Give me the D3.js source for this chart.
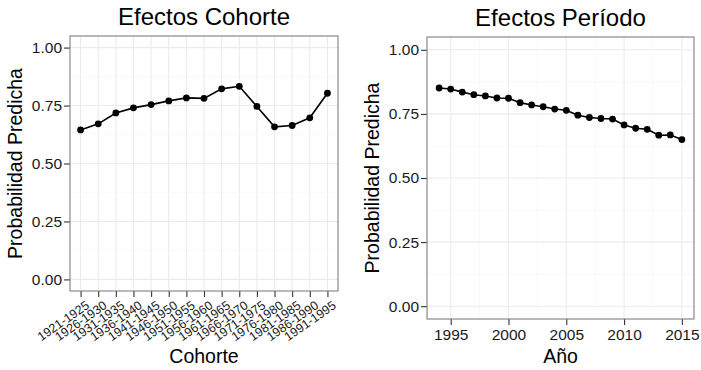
<!DOCTYPE html>
<html>
<head>
<meta charset="utf-8">
<script src="https://cdn.jsdelivr.net/npm/d3@7"></script>
<style>
  body { margin: 0; background: #fff; }
  text { font-family: "Liberation Sans", Arial, sans-serif; }
</style>
</head>
<body>
<script>
// cohort effects (left) and period effects (right)
var cohorts = ["1921-1925", "1926-1930", "1931-1935", "1936-1940", "1941-1945",
  "1946-1950", "1951-1955", "1956-1960", "1961-1965", "1966-1970",
  "1971-1975", "1976-1980", "1981-1985", "1986-1990", "1991-1995"];
var cohortProb = [0.645, 0.671, 0.718, 0.740, 0.754, 0.770, 0.783, 0.781,
  0.822, 0.833, 0.746, 0.658, 0.664, 0.697, 0.803];

var years = [1994, 1995, 1996, 1997, 1998, 1999, 2000, 2001, 2002, 2003, 2004,
  2005, 2006, 2007, 2008, 2009, 2010, 2011, 2012, 2013, 2014, 2015];
var periodProb = [0.851, 0.847, 0.835, 0.825, 0.820, 0.812, 0.811, 0.794, 0.785,
  0.778, 0.769, 0.764, 0.745, 0.736, 0.732, 0.730, 0.707, 0.694, 0.690, 0.667,
  0.668, 0.650];

var yTicks = [0, 0.25, 0.5, 0.75, 1];
var yMinor = [0.125, 0.375, 0.625, 0.875];
var yearTicks = [1995, 2000, 2005, 2010, 2015];
var yearMinor = [1997.5, 2002.5, 2007.5, 2012.5];

var svg = d3.select("body")
  .append("svg")
  .attr("width", 701)
  .attr("height", 370);

var gridCol = "#ebebeb";
var minorCol = "#f5f5f5";

function yAxisPanel(g, y, w, h) {
  g.selectAll(".ymin").data(yMinor).enter().append("line")
    .attr("x1", 0).attr("x2", w)
    .attr("y1", function(d) { return y(d); }).attr("y2", function(d) { return y(d); })
    .attr("stroke", minorCol).attr("stroke-width", 0.6);
  g.selectAll(".ymaj").data(yTicks).enter().append("line")
    .attr("x1", 0).attr("x2", w)
    .attr("y1", function(d) { return y(d); }).attr("y2", function(d) { return y(d); })
    .attr("stroke", gridCol).attr("stroke-width", 1.1);

  var ax = g.append("g")
    .call(d3.axisLeft(y).tickValues(yTicks).tickFormat(d3.format(".2f")).tickSize(6).tickPadding(2));
  ax.select(".domain").remove();
  ax.selectAll("line").attr("stroke", "#333").attr("stroke-width", 1.1);
  ax.selectAll("text").attr("fill", "#1a1a1a").style("font-size", "15.5px");
}

function titles(g, w, h, title, xtitle, xtitleY) {
  g.append("text")
    .attr("x", w / 2).attr("y", -11)
    .attr("text-anchor", "middle")
    .style("font-size", "24px")
    .text(title);
  g.append("text")
    .attr("x", w / 2).attr("y", xtitleY)
    .attr("text-anchor", "middle")
    .style("font-size", "19.5px")
    .text(xtitle);
}

// ---- left panel: cohorts
var m1 = {left: 70, top: 36, w: 268, h: 255};
var g1 = svg.append("g").attr("transform", "translate(" + m1.left + "," + m1.top + ")");

var x1 = d3.scalePoint().domain(cohorts).range([0, m1.w]).padding(0.6);
var y1 = d3.scaleLinear().domain([-0.05, 1.05]).range([m1.h, 0]);

g1.selectAll(".xmaj").data(cohorts).enter().append("line")
  .attr("x1", function(d) { return x1(d); }).attr("x2", function(d) { return x1(d); })
  .attr("y1", 0).attr("y2", m1.h)
  .attr("stroke", gridCol).attr("stroke-width", 1.1);
yAxisPanel(g1, y1, m1.w, m1.h);

var xa1 = g1.append("g")
  .attr("transform", "translate(0," + m1.h + ")")
  .call(d3.axisBottom(x1).tickSize(6).tickPadding(2));
xa1.select(".domain").remove();
xa1.selectAll("line").attr("stroke", "#333").attr("stroke-width", 1.1);
xa1.selectAll("text")
  .attr("fill", "#1a1a1a")
  .style("font-size", "12.5px")
  .attr("text-anchor", "end")
  .attr("dy", "0.71em")
  .attr("y", 0)
  .attr("transform", "translate(4,9) rotate(-35)");

g1.append("rect")
  .attr("width", m1.w).attr("height", m1.h)
  .attr("fill", "none").attr("stroke", "#7f7f7f").attr("stroke-width", 1.1);

var line1 = d3.line()
  .x(function(d, i) { return x1(cohorts[i]); })
  .y(function(d) { return y1(d); });

g1.append("path")
  .datum(cohortProb)
  .attr("fill", "none")
  .attr("stroke", "#000")
  .attr("stroke-width", 1.6)
  .attr("d", line1);

g1.selectAll(".pt").data(cohortProb).enter().append("circle")
  .attr("cx", function(d, i) { return x1(cohorts[i]); })
  .attr("cy", function(d) { return y1(d); })
  .attr("r", 3.4)
  .attr("fill", "#000");

titles(g1, m1.w, m1.h, "Efectos Cohorte", "Cohorte", 327);
g1.append("text")
  .attr("transform", "translate(-48," + (m1.h / 2) + ") rotate(-90)")
  .attr("text-anchor", "middle")
  .style("font-size", "19.5px")
  .text("Probabilidad Predicha");

// ---- right panel: period
var m2 = {left: 427, top: 37, w: 267, h: 282};
var g2 = svg.append("g").attr("transform", "translate(" + m2.left + "," + m2.top + ")");

var x2 = d3.scaleLinear().domain([1994 - 1.05, 2015 + 1.05]).range([0, m2.w]);
var y2 = d3.scaleLinear().domain([-0.05, 1.05]).range([m2.h, 0]);

g2.selectAll(".xmin").data(yearMinor).enter().append("line")
  .attr("x1", function(d) { return x2(d); }).attr("x2", function(d) { return x2(d); })
  .attr("y1", 0).attr("y2", m2.h)
  .attr("stroke", minorCol).attr("stroke-width", 0.6);
g2.selectAll(".xmaj").data(yearTicks).enter().append("line")
  .attr("x1", function(d) { return x2(d); }).attr("x2", function(d) { return x2(d); })
  .attr("y1", 0).attr("y2", m2.h)
  .attr("stroke", gridCol).attr("stroke-width", 1.1);
yAxisPanel(g2, y2, m2.w, m2.h);

var xa2 = g2.append("g")
  .attr("transform", "translate(0," + m2.h + ")")
  .call(d3.axisBottom(x2).tickValues(yearTicks).tickFormat(d3.format("d")).tickSize(6).tickPadding(4));
xa2.select(".domain").remove();
xa2.selectAll("line").attr("stroke", "#333").attr("stroke-width", 1.1);
xa2.selectAll("text").attr("fill", "#1a1a1a").style("font-size", "15.5px");

g2.append("rect")
  .attr("width", m2.w).attr("height", m2.h)
  .attr("fill", "none").attr("stroke", "#7f7f7f").attr("stroke-width", 1.1);

var line2 = d3.line()
  .x(function(d, i) { return x2(years[i]); })
  .y(function(d) { return y2(d); });

g2.append("path")
  .datum(periodProb)
  .attr("fill", "none")
  .attr("stroke", "#000")
  .attr("stroke-width", 1.6)
  .attr("d", line2);

g2.selectAll(".pt").data(periodProb).enter().append("circle")
  .attr("cx", function(d, i) { return x2(years[i]); })
  .attr("cy", function(d) { return y2(d); })
  .attr("r", 3.4)
  .attr("fill", "#000");

titles(g2, m2.w, m2.h, "Efectos Período", "Año", 326);
g2.append("text")
  .attr("transform", "translate(-48," + (m2.h / 2) + ") rotate(-90)")
  .attr("text-anchor", "middle")
  .style("font-size", "19.5px")
  .text("Probabilidad Predicha");
</script>
</body>
</html>
